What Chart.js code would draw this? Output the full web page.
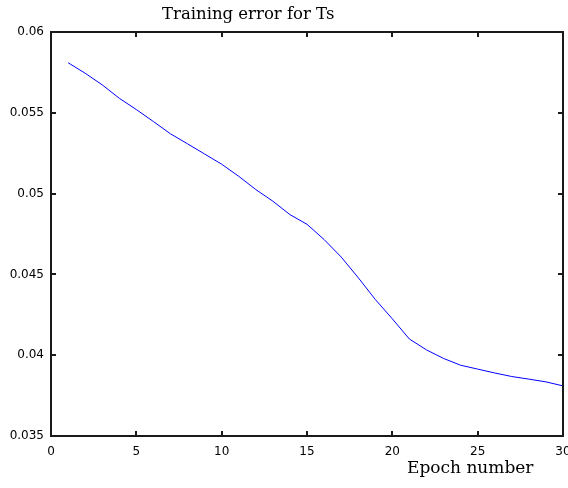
<!DOCTYPE html>
<html>
<head>
<meta charset="utf-8">
<script src="https://cdn.jsdelivr.net/npm/chart.js@4/dist/chart.umd.min.js"></script>
<style>
  html, body { margin: 0; padding: 0; background: #fff; }
  #c { display: block; }
</style>
</head>
<body>
<canvas id="c" width="568" height="488"></canvas>
<script>
// training error per epoch
const epochs = [1, 2, 3, 4, 5, 6, 7, 8, 9, 10, 11, 12, 13, 14, 15,
  16, 17, 18, 19, 20, 21, 22, 23, 24, 25, 26, 27, 28, 29, 30];
const trainErr = [0.0581, 0.05745, 0.05673, 0.0559, 0.0552, 0.05446, 0.0537, 0.05308, 0.05245, 0.05182,
  0.05107, 0.05025, 0.04953, 0.0487, 0.0481, 0.04716, 0.04608, 0.0448, 0.04345, 0.04225,
  0.041, 0.04033, 0.0398, 0.03938, 0.03914, 0.0389, 0.03868, 0.03852, 0.03835, 0.0381];
const xTicks = [0, 5, 10, 15, 20, 25, 30];
const yTicks = [0.035, 0.04, 0.045, 0.05, 0.055, 0.06];

const titleText = "Training error for Ts";
const xLabelText = "Epoch number";

// box round the plot, inward ticks and the two captions
const matlabFrame = {
  id: "matlabFrame",
  afterDraw(chart) {
    const ctx = chart.ctx;
    const a = chart.chartArea;
    const xs = chart.scales.x;
    const ys = chart.scales.y;
    const L = Math.round(a.left), R = Math.round(a.right);
    const T = Math.round(a.top), B = Math.round(a.bottom);
    const w = 2, tl = 5;
    ctx.save();
    ctx.fillStyle = "#1a1a1a";
    ctx.fillRect(L - 1, T - 1, R - L + 2, w);
    ctx.fillRect(L - 1, B - 1, R - L + 2, w);
    ctx.fillRect(L - 1, T - 1, w, B - T + 2);
    ctx.fillRect(R - 1, T - 1, w, B - T + 2);
    xTicks.forEach((v) => {
      const px = Math.round(xs.getPixelForValue(v));
      ctx.fillRect(px - 1, B - tl, w, tl);
      ctx.fillRect(px - 1, T, w, tl);
    });
    yTicks.forEach((v) => {
      const py = Math.round(ys.getPixelForValue(v));
      ctx.fillRect(L, py - 1, tl, w);
      ctx.fillRect(R - tl, py - 1, tl, w);
    });

    ctx.fillStyle = "#000";
    ctx.font = "16.5px 'DejaVu Serif'";
    ctx.textBaseline = "alphabetic";
    ctx.textAlign = "left";
    ctx.fillText(titleText, 162, 19);
    ctx.font = "17px 'DejaVu Serif'";
    ctx.fillText(xLabelText, 407, 473);
    ctx.restore();
  },
};

new Chart(document.getElementById("c"), {
  type: "line",
  data: {
    datasets: [{
      data: epochs.map((e, i) => ({ x: e, y: trainErr[i] })),
      borderColor: "#0000ff",
      borderWidth: 1,
      pointRadius: 0,
      tension: 0,
      fill: false,
    }],
  },
  options: {
    responsive: false,
    animation: false,
    layout: { padding: { top: 32, right: 5, left: 0, bottom: 0 } },
    plugins: { legend: { display: false }, title: { display: false }, tooltip: { enabled: false } },
    scales: {
      x: {
        type: "linear",
        min: 0,
        max: 30,
        grid: { display: false, drawTicks: false },
        border: { display: false },
        afterBuildTicks: (s) => { s.ticks = xTicks.map((v) => ({ value: v })); },
        afterFit: (s) => { s.height = 52; s.paddingLeft = 0; s.paddingRight = 0; },
        ticks: {
          color: "#000",
          padding: 9,
          maxRotation: 0,
          font: { family: "'DejaVu Sans'", size: 12 },
          callback: (v) => String(v),
        },
      },
      y: {
        min: 0.035,
        max: 0.06,
        grid: { display: false, drawTicks: false },
        border: { display: false },
        afterBuildTicks: (s) => { s.ticks = yTicks.map((v) => ({ value: v })); },
        afterFit: (s) => { s.width = 51; s.paddingTop = 0; s.paddingBottom = 0; },
        ticks: {
          color: "#000",
          padding: 7,
          font: { family: "'DejaVu Sans'", size: 12 },
          callback: (v) => String(+v.toFixed(3)),
        },
      },
    },
  },
  plugins: [matlabFrame],
});
</script>
</body>
</html>
